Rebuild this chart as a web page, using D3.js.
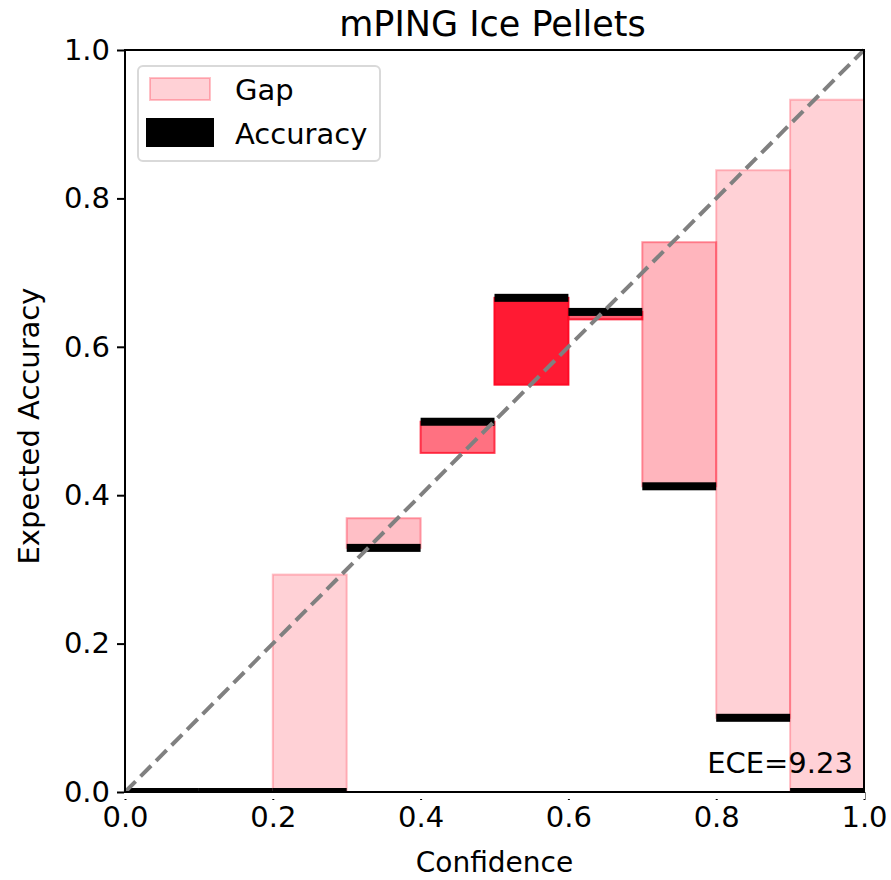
<!DOCTYPE html>
<html>
<head>
<meta charset="utf-8">
<script src="https://cdn.jsdelivr.net/npm/d3@7"></script>
<style>
  body { margin: 0; background: #fff; }
  text { font-family: "DejaVu Sans", sans-serif; fill: #000; }
</style>
</head>
<body>
<div id="chart"></div>
<script>
// reliability diagram data (10 bins)
var binStart = [0.0, 0.1, 0.2, 0.3, 0.4, 0.5, 0.6, 0.7, 0.8, 0.9];
var accuracy = [0.0, 0.0, 0.0, 0.329, 0.499, 0.666, 0.647, 0.412, 0.100, 0.0];
var confidence = [null, null, 0.293, 0.369, 0.457, 0.549, 0.637, 0.741, 0.838, 0.933];
var binWeight = [0, 0, 0.2, 0.28, 0.62, 1.0, 0.7, 0.32, 0.2, 0.2];
var xTicks = [0.0, 0.2, 0.4, 0.6, 0.8, 1.0];
var yTicks = [0.0, 0.2, 0.4, 0.6, 0.8, 1.0];
var ece = "9.23";

var W = 891, H = 880;
var margin = {top: 50, left: 125, right: 27, bottom: 88};
var width = W - margin.left - margin.right;
var height = H - margin.top - margin.bottom;
var binW = 0.1;
var fs = 29;

var svg = d3.select('#chart').append('svg')
  .attr('width', W).attr('height', H);

var g = svg.append('g')
  .attr('transform', 'translate(' + margin.left + ',' + margin.top + ')');

var x = d3.scaleLinear().domain([0, 1]).range([0, width]);
var y = d3.scaleLinear().domain([0, 1]).range([height, 0]);
var alpha = d3.scaleLinear().domain([0, 1]).range([0, 1]);

var bins = binStart.map(function(d, i) {
  return {x0: d, acc: accuracy[i], conf: confidence[i], w: binWeight[i]};
});

// gap bars (between confidence and accuracy)
g.selectAll('rect.gap')
  .data(bins.filter(function(d) { return d.conf !== null; }))
  .enter().append('rect')
  .attr('class', 'gap')
  .attr('x', function(d) { return x(d.x0); })
  .attr('width', function(d) { return x(d.x0 + binW) - x(d.x0); })
  .attr('y', function(d) { return y(Math.max(d.acc, d.conf)); })
  .attr('height', function(d) { return Math.abs(y(d.acc) - y(d.conf)); })
  .attr('fill', '#ff1a33')
  .attr('fill-opacity', function(d) { return alpha(d.w); })
  .attr('stroke', '#ff0a25')
  .attr('stroke-opacity', function(d) { return Math.min(1, alpha(d.w) * 1.25); })
  .attr('stroke-width', 2);

// accuracy markers
var accH = 8;
g.selectAll('rect.acc')
  .data(bins)
  .enter().append('rect')
  .attr('class', 'acc')
  .attr('x', function(d) { return x(d.x0); })
  .attr('width', function(d) { return x(d.x0 + binW) - x(d.x0); })
  .attr('y', function(d) { return y(d.acc) - accH / 2; })
  .attr('height', accH)
  .attr('fill', '#000');

// clip bottom half of zero-accuracy markers to plot area
svg.append('rect').attr('x', margin.left - 1).attr('y', margin.top + height + 1)
  .attr('width', width + 2).attr('height', 6).attr('fill', '#fff');

// diagonal
g.append('line')
  .attr('x1', x(0)).attr('y1', y(0))
  .attr('x2', x(1)).attr('y2', y(1))
  .attr('stroke', '#808080')
  .attr('stroke-width', 4)
  .attr('stroke-dasharray', '15,7');

// axes
var xAxis = g.append('g')
  .attr('transform', 'translate(0,' + height + ')')
  .call(d3.axisBottom(x).tickValues(xTicks).tickFormat(d3.format('.1f')).tickSizeOuter(0).tickSize(8).tickPadding(6));
var yAxis = g.append('g')
  .call(d3.axisLeft(y).tickValues(yTicks).tickFormat(d3.format('.1f')).tickSizeOuter(0).tickSize(8).tickPadding(7));

[xAxis, yAxis].forEach(function(a) {
  a.select('.domain').remove();
  a.selectAll('.tick line').attr('stroke', '#000').attr('stroke-width', 2);
  a.selectAll('.tick text').style('font-size', fs + 'px').attr('fill', '#000');
});

// frame
g.append('rect')
  .attr('x', 0).attr('y', 0).attr('width', width).attr('height', height)
  .attr('fill', 'none').attr('stroke', '#000').attr('stroke-width', 2);

// title and labels
svg.append('text')
  .attr('x', margin.left + width / 2 - 2).attr('y', 36)
  .attr('text-anchor', 'middle').style('font-size', '35px')
  .text('mPING Ice Pellets');

svg.append('text')
  .attr('x', margin.left + width / 2).attr('y', 872)
  .attr('text-anchor', 'middle').style('font-size', '28px')
  .text('Confidence');

svg.append('text')
  .attr('transform', 'translate(39,' + (margin.top + height / 2 + 5) + ') rotate(-90)')
  .attr('text-anchor', 'middle').style('font-size', fs + 'px')
  .text('Expected Accuracy');

// ECE annotation
g.append('text')
  .attr('x', x(0.985)).attr('y', y(0.025))
  .attr('text-anchor', 'end').style('font-size', fs + 'px')
  .text('ECE=' + ece);

// legend
var leg = g.append('g').attr('transform', 'translate(13,16)');
leg.append('rect')
  .attr('width', 242).attr('height', 95).attr('rx', 5)
  .attr('fill', '#fff').attr('fill-opacity', 0.8)
  .attr('stroke', '#d9d9d9').attr('stroke-width', 2);
leg.append('rect')
  .attr('x', 12).attr('y', 12).attr('width', 60).attr('height', 22)
  .attr('fill', '#ff1a33').attr('fill-opacity', 0.2)
  .attr('stroke', '#ff0a25').attr('stroke-opacity', 0.25).attr('stroke-width', 2);
leg.append('text').attr('x', 97).attr('y', 34).style('font-size', fs + 'px').text('Gap');
leg.append('rect')
  .attr('x', 8).attr('y', 52).attr('width', 68).attr('height', 29)
  .attr('fill', '#000');
leg.append('text').attr('x', 97).attr('y', 78).style('font-size', fs + 'px').text('Accuracy');
</script>
</body>
</html>
